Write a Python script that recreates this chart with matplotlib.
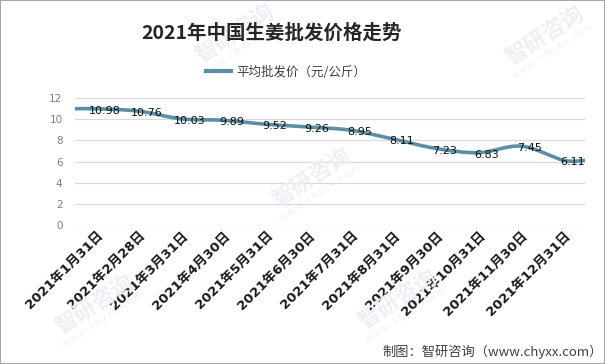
import matplotlib
matplotlib.use("Agg")
import matplotlib.pyplot as plt
from matplotlib.patches import Rectangle, PathPatch
from matplotlib.path import Path
from matplotlib.lines import Line2D

plt.rcParams['font.family'] = ['Noto Sans CJK SC', 'DejaVu Sans']

categories = ["2021年1月31日", "2021年2月28日", "2021年3月31日", "2021年4月30日",
              "2021年5月31日", "2021年6月30日", "2021年7月31日", "2021年8月31日",
              "2021年9月30日", "2021年10月31日", "2021年11月30日", "2021年12月31日"]
prices = [10.98, 10.76, 10.03, 9.89, 9.52, 9.26, 8.95, 8.11, 7.23, 6.83, 7.45, 6.11]
series_name = "平均批发价（元/公斤）"
title = "2021年中国生姜批发价格走势"
source = "制图：智研咨询（www.chyxx.com）"
watermark = "智研咨询"
watermark_url = "w w w . c h y x x . c o m"
yticks = [0, 2, 4, 6, 8, 10, 12]

W, H = 605, 364
fig = plt.figure(figsize=(W / 100, H / 100), dpi=100)
ax = fig.add_axes([75 / W, 1 - 225 / H, 510 / W, 127 / H])

# faint watermarks (figure pixel positions)
wm_color = '#eceff3'
for (px, py) in [(235, 34), (545, 36), (312, 178), (95, 305), (398, 300)]:
    fig.text(px / W, 1 - py / H, watermark, ha='center', va='center', rotation=33,
             rotation_mode='anchor', fontsize=16, color=wm_color, fontweight='bold', zorder=0)
    ax.annotate(watermark_url, xy=(px / W, 1 - py / H), xycoords='figure fraction',
                xytext=(8, -15), textcoords='offset pixels', ha='center', va='center',
                rotation=33, rotation_mode='anchor', fontsize=6.5, color=wm_color,
                annotation_clip=False, zorder=0)

n = len(prices)
xs = list(range(n))
lx = [-0.5] + xs + [n - 0.5]
ly = [prices[0]] + prices + [prices[-1]]

# smoothed line (Catmull-Rom style Bezier, like a spreadsheet "smooth line")
verts = [(lx[0], ly[0])]
codes = [Path.MOVETO]
m = len(lx)
for i in range(m - 1):
    p0 = (lx[max(i - 1, 0)], ly[max(i - 1, 0)])
    p1 = (lx[i], ly[i])
    p2 = (lx[i + 1], ly[i + 1])
    p3 = (lx[min(i + 2, m - 1)], ly[min(i + 2, m - 1)])
    c1 = (p1[0] + (p2[0] - p0[0]) / 6, p1[1] + (p2[1] - p0[1]) / 6)
    c2 = (p2[0] - (p3[0] - p1[0]) / 6, p2[1] - (p3[1] - p1[1]) / 6)
    verts += [c1, c2, p2]
    codes += [Path.CURVE4] * 3
line_color = "#5a8fa5"
ax.add_patch(PathPatch(Path(verts, codes), facecolor='none', edgecolor=line_color,
                       lw=2.6, capstyle='butt', joinstyle='round', zorder=3))

for x, v in zip(xs, prices):
    ax.annotate(f"{v:.2f}", (x, v), xytext=(6, -1.5), textcoords='offset points',
                ha='center', va='center', fontsize=8, color='#111111',
                family=['DejaVu Sans'], zorder=4)

ax.set_xlim(-0.5, n - 0.5)
ax.set_ylim(0, 12)
ax.set_yticks(yticks)
ax.set_yticklabels([str(t) for t in yticks], fontsize=7.5, color='#7f7f7f',
                   family=['DejaVu Sans'])
ax.yaxis.grid(True, color='#d9d9d9', lw=0.9)
ax.set_axisbelow(True)
ax.tick_params(axis='y', length=0, pad=9)
ax.tick_params(axis='x', length=0, pad=3)
ax.set_xticks(xs)
ax.set_xticklabels(categories, rotation=45, ha='right', rotation_mode='anchor',
                   fontsize=9.5, fontweight='bold', color='#1a1a1a',
                   family=['DejaVu Sans', 'Noto Sans CJK SC'])
for s in ax.spines.values():
    s.set_visible(False)

fig.text(272 / W, 1 - 33 / H, title, ha='center', va='center', fontsize=14,
         fontweight='bold', color='#262626')

handle = Line2D([], [], color=line_color, lw=3)
leg = ax.legend([handle], [series_name], loc='center', bbox_to_anchor=(286 / W, 1 - 72 / H),
                bbox_transform=fig.transFigure, frameon=False, fontsize=9,
                handlelength=2.0, handletextpad=0.4)
for t in leg.get_texts():
    t.set_color('#404040')

fig.text(603 / W, 1 - 352 / H, source, ha='right', va='center', fontsize=9.5,
         color='#404040')

fig.patches.append(Rectangle((0, 0), 1, 1, transform=fig.transFigure, fill=False,
                             edgecolor='#a6a6a6', lw=1.5))

fig.savefig("out.png", dpi=100)
